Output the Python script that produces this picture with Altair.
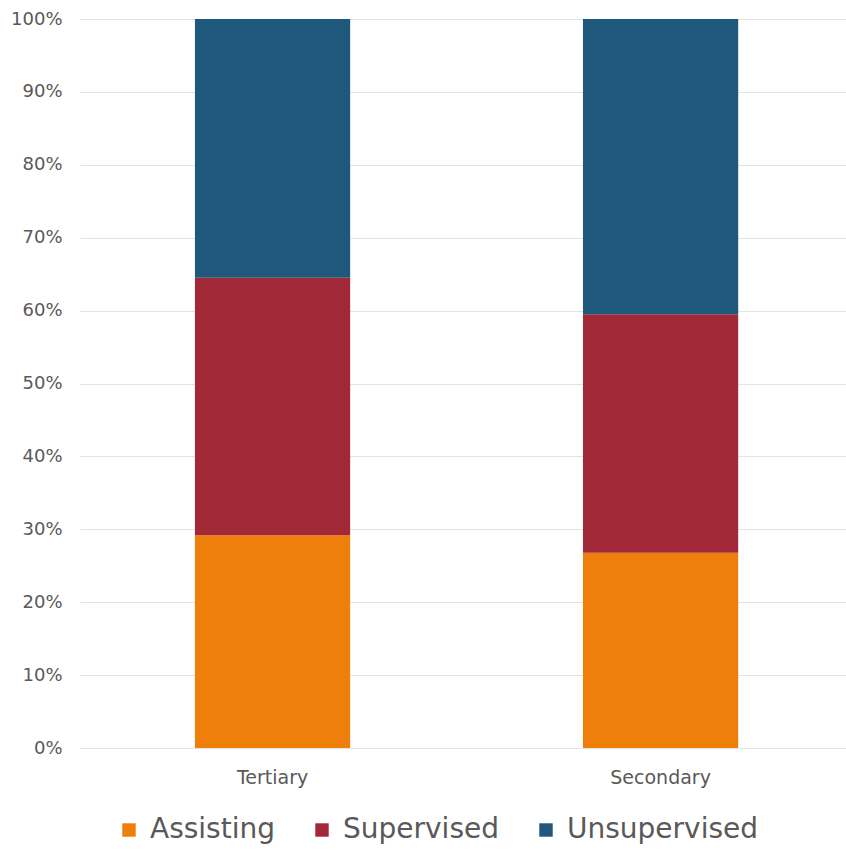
import altair as alt
import pandas as pd

# Education level of each bar, bottom-to-top series and their shares (%)
levels = ["Tertiary", "Secondary"]
series = ["Assisting", "Supervised", "Unsupervised"]
assisting = [29.2, 26.8]
supervised = [35.3, 32.7]
unsupervised = [35.5, 40.5]
colors = ["#EE7F0A", "#A12836", "#1F587B"]
y_ticks = [0.0, 0.1, 0.2, 0.3, 0.4, 0.5, 0.6, 0.7, 0.8, 0.9, 1.0]

rows = []
for i, lvl in enumerate(levels):
    for k, (name, vals) in enumerate(zip(series, [assisting, supervised, unsupervised])):
        rows.append({"level": lvl, "series": name, "share": vals[i] / 100, "order": k})
df = pd.DataFrame(rows)

FONT = "DejaVu Sans"
GREY = "#595959"

chart = (
    alt.Chart(df)
    .mark_bar()
    .encode(
        x=alt.X(
            "level:N",
            sort=levels,
            scale=alt.Scale(paddingInner=0.6, paddingOuter=0.287, align=0.516),
            axis=alt.Axis(
                title=None,
                labelAngle=0,
                domain=False,
                ticks=False,
                grid=False,
                labelFontSize=19,
                labelColor=GREY,
                labelFont=FONT,
                labelPadding=20,
            ),
        ),
        y=alt.Y(
            "share:Q",
            stack="zero",
            scale=alt.Scale(domain=[0, 1], nice=False),
            axis=alt.Axis(
                title=None,
                format=".0%",
                values=y_ticks,
                domain=False,
                ticks=False,
                labelFontSize=18,
                labelColor=GREY,
                labelFont=FONT,
                labelPadding=18,
                gridColor="#E3E3E3",
                gridWidth=1.2,
            ),
        ),
        color=alt.Color(
            "series:N",
            scale=alt.Scale(domain=series, range=colors),
            legend=alt.Legend(
                title=None,
                orient="none",
                direction="horizontal",
                legendX=35,
                legendY=797,
                symbolType="square",
                symbolSize=180,
                symbolStrokeWidth=0,
                symbolOpacity=1,
                labelFontSize=28,
                labelFont=FONT,
                labelColor=GREY,
                labelOffset=7,
                labelLimit=400,
                columnPadding=33,
                padding=0,
            ),
        ),
        order=alt.Order("order:Q"),
    )
    .properties(
        width=766,
        height=729,
        autosize=alt.AutoSizeParams(type="none"),
        padding={"left": 80, "top": 19, "right": 0, "bottom": 102},
        background="white",
    )
    .configure_view(stroke=None)
)

chart.save("out.html", embed_options={"renderer": "svg", "actions": False})
